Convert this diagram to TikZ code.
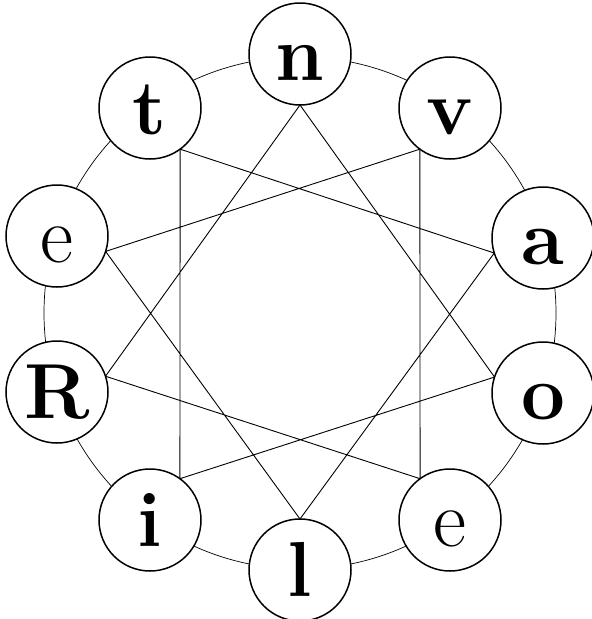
\documentclass[tikz,border=0pt]{standalone}
\usepackage{fontspec}
\usetikzlibrary{calc}
\begin{document}
\begin{tikzpicture}[x=1pt,y=-1pt,
  letter/.style={circle,draw,line width=1.5pt,fill=white,minimum size=102pt,inner sep=0pt,
    text height=52pt,text depth=0pt,font=\fontsize{78}{78}\selectfont\bfseries},
  lighter/.style={font=\fontsize{81}{81}\selectfont\mdseries},
  chord/.style={line width=0.9pt},
  ring/.style={line width=0.7pt}]
\useasboundingbox (0,0) rectangle (592,619);
\coordinate (c) at (300,313);
\draw[ring] (c) circle[radius=256pt];
\node[letter] (n) at (300,54) {n};
\node[letter] (v) at (450,108) {v};
\node[letter] (a) at (543,238) {a};
\node[letter] (o) at (543,393) {o};
\node[letter,lighter] (e1) at (450,520) {e};
\node[letter] (l) at (300,570) {l};
\node[letter] (i) at (150,520) {i};
\node[letter] (R) at (57,392) {R};
\node[letter,lighter] (e2) at (57,236) {e};
\node[letter] (t) at (150,108) {t};
\foreach \k in {n,v,a,o,e1,l,i,R,e2,t}
  \coordinate (p\k) at ($(\k)!51pt!(c)$);
\draw[chord] (pn)--(po) (pv)--(pe1) (pa)--(pl) (po)--(pi) (pe1)--(pR)
  (pl)--(pe2) (pi)--(pt) (pR)--(pn) (pe2)--(pv) (pt)--(pa);
\end{tikzpicture}
\end{document}
